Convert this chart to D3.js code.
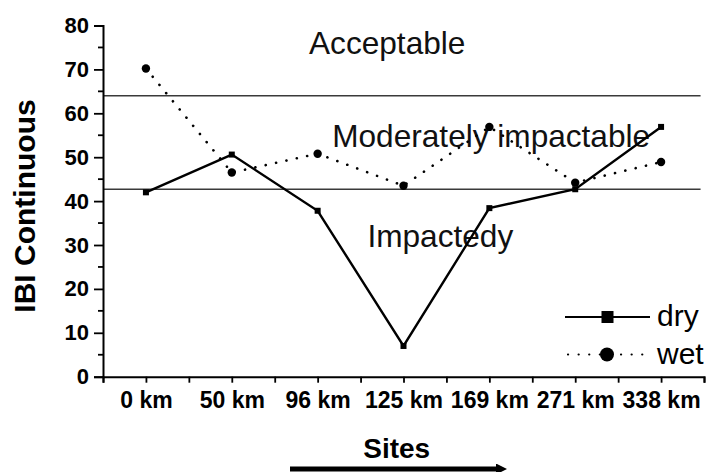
<!DOCTYPE html>
<html>
<head>
<meta charset="utf-8">
<script src="https://cdn.jsdelivr.net/npm/d3@7"></script>
<style>
  html, body { margin: 0; padding: 0; background: #fff; }
  svg { display: block; font-family: "Liberation Sans", Arial, sans-serif; }
</style>
</head>
<body>
<svg id="chart" width="710" height="472"></svg>
<script>
const sites = ["0 km", "50 km", "96 km", "125 km", "169 km", "271 km", "338 km"];
const dryValues = [42, 50.6, 37.8, 7, 38.4, 42.7, 56.9];
const wetValues = [70.2, 46.5, 50.8, 43.5, 56.9, 44.2, 48.9];
const yTicks = [0, 10, 20, 30, 40, 50, 60, 70, 80];
const thresholds = [64, 42.7];
const zoneLabels = [
  { text: "Acceptable", value: 73.5, site: 1.9 },
  { text: "Moderately impactable", value: 52.4, site: 2.17 },
  { text: "Impactedy", value: 29.6, site: 2.58 }
];

const svg = d3.select("#chart");
const x = d3.scaleLinear().domain([-0.5, 6.5]).range([103, 704]);
const y = d3.scaleLinear().domain([0, 80]).range([376.7, 25.5]);

// Reference threshold lines
svg.selectAll("line.thr").data(thresholds).enter().append("line")
  .attr("class", "thr")
  .attr("x1", x(-0.5)).attr("x2", x(6.46))
  .attr("y1", d => y(d)).attr("y2", d => y(d))
  .attr("stroke", "#3a3a3a").attr("stroke-width", 1.6);

// Zone labels
svg.selectAll("text.zone").data(zoneLabels).enter().append("text")
  .attr("class", "zone")
  .attr("x", d => x(d.site)).attr("y", d => y(d.value))
  .attr("font-size", 31.6).attr("fill", "#111")
  .text(d => d.text);

// Y axis
const yAxis = d3.axisLeft(y).tickValues(yTicks).tickSize(9).tickPadding(5).tickFormat(d3.format("d"));
const gy = svg.append("g").attr("transform", `translate(${x(-0.5)},0)`).call(yAxis);
gy.select(".domain").attr("stroke", "#000").attr("stroke-width", 2);
gy.selectAll(".tick line").attr("stroke", "#000").attr("stroke-width", 1.8);
gy.selectAll(".tick text").attr("font-size", 22).attr("font-weight", "bold")
  .attr("font-family", "Liberation Sans, Arial, sans-serif").attr("fill", "#000");
// minor y ticks
const yMinor = d3.range(5, 80, 10);
svg.selectAll("line.ym").data(yMinor).enter().append("line")
  .attr("x1", x(-0.5) - 5).attr("x2", x(-0.5))
  .attr("y1", d => y(d)).attr("y2", d => y(d))
  .attr("stroke", "#000").attr("stroke-width", 1.8);

// X axis
const xAxis = d3.axisBottom(x).tickValues(d3.range(-0.5, 6.51, 0.5)).tickSize(6).tickPadding(9)
  .tickFormat(d => Number.isInteger(d) ? sites[d] : "");
const gx = svg.append("g").attr("transform", `translate(0,${y(0)})`).call(xAxis);
gx.select(".domain").attr("stroke", "#000").attr("stroke-width", 2);
gx.selectAll(".tick line").attr("stroke", "#000").attr("stroke-width", 1.8);
gx.selectAll(".tick text").attr("font-size", 23).attr("font-weight", "bold")
  .attr("font-family", "Liberation Sans, Arial, sans-serif").attr("fill", "#000");

// Axis titles
svg.append("text")
  .attr("transform", `translate(35,206) rotate(-90)`)
  .attr("text-anchor", "middle").attr("font-size", 30).attr("font-weight", "bold")
  .text("IBI Continuous");
svg.append("text")
  .attr("x", 396.7).attr("y", 458.3)
  .attr("text-anchor", "middle").attr("font-size", 28).attr("font-weight", "bold")
  .text("Sites");

// Arrow
const defs = svg.append("defs");
defs.append("marker").attr("id", "arrow")
  .attr("viewBox", "0 0 10 10").attr("refX", 0).attr("refY", 5)
  .attr("markerWidth", 3).attr("markerHeight", 2.2).attr("markerUnits", "strokeWidth")
  .attr("orient", "auto")
  .append("path").attr("d", "M0,0 L10,5 L0,10 Z").attr("fill", "#000");
svg.append("line")
  .attr("x1", 290).attr("x2", 496).attr("y1", 469).attr("y2", 469)
  .attr("stroke", "#000").attr("stroke-width", 5)
  .attr("marker-end", "url(#arrow)");

// Series lines
const line = d3.line().x((d, i) => x(i)).y(d => y(d));
svg.append("path").datum(wetValues)
  .attr("d", line).attr("fill", "none").attr("stroke", "#000")
  .attr("stroke-width", 2.6).attr("stroke-dasharray", "0.1,10.5").attr("stroke-linecap", "round");
svg.append("path").datum(dryValues)
  .attr("d", line).attr("fill", "none").attr("stroke", "#000")
  .attr("stroke-width", 2.4);

// Markers
svg.selectAll("rect.dry").data(dryValues).enter().append("rect")
  .attr("x", (d, i) => x(i) - 3).attr("y", d => y(d) - 3)
  .attr("width", 6).attr("height", 6).attr("fill", "#000");
svg.selectAll("circle.wet").data(wetValues).enter().append("circle")
  .attr("cx", (d, i) => x(i)).attr("cy", d => y(d)).attr("r", 4.2).attr("fill", "#000");

// Legend
const lg = svg.append("g");
lg.append("line").attr("x1", 565).attr("x2", 650).attr("y1", 317).attr("y2", 317)
  .attr("stroke", "#000").attr("stroke-width", 2);
lg.append("rect").attr("x", 601.5).attr("y", 311).attr("width", 12).attr("height", 12).attr("fill", "#000");
lg.append("text").attr("x", 657).attr("y", 325.7).attr("font-size", 30).text("dry");
lg.append("line").attr("x1", 568).attr("x2", 650).attr("y1", 354.5).attr("y2", 354.5)
  .attr("stroke", "#000").attr("stroke-width", 2.2)
  .attr("stroke-dasharray", "0.1,10.5").attr("stroke-linecap", "round");
lg.append("circle").attr("cx", 607).attr("cy", 354.5).attr("r", 7).attr("fill", "#000");
lg.append("text").attr("x", 657).attr("y", 364).attr("font-size", 30).text("wet");
</script>
</body>
</html>
